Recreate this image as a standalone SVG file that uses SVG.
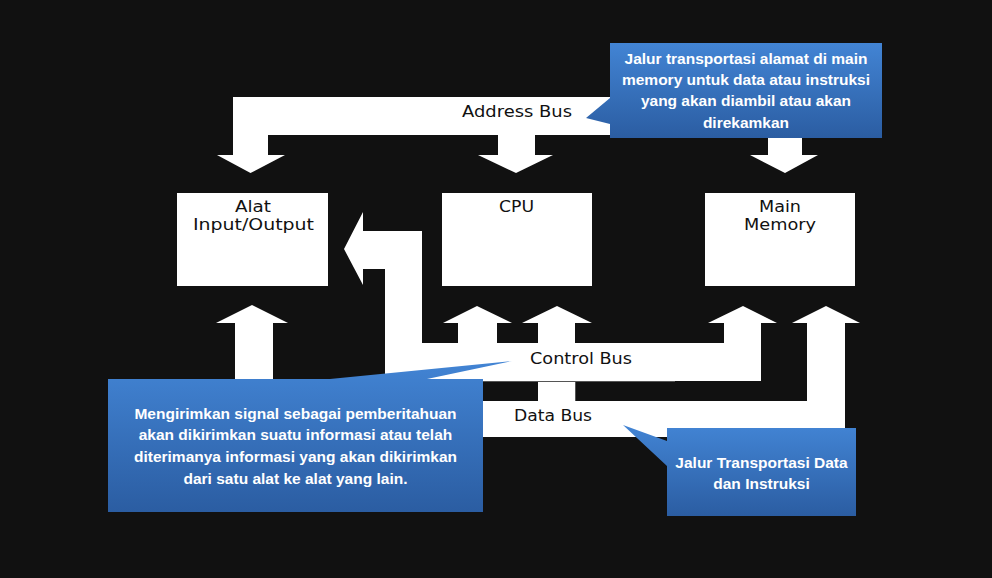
<svg xmlns="http://www.w3.org/2000/svg" width="992" height="578" viewBox="0 0 992 578">
<defs>
<linearGradient id="blueFill" x1="0" y1="0" x2="0" y2="1">
<stop offset="0" stop-color="#4284d4"/>
<stop offset="1" stop-color="#2b5da2"/>
</linearGradient>
</defs>
<style>
.bus{fill:#ffffff;}
.node{fill:#ffffff;}
.lbl{font-family:"DejaVu Sans",Verdana,sans-serif;font-size:16px;fill:#111111;}
.note{font-family:"Liberation Sans",Arial,sans-serif;font-weight:bold;font-size:15.5px;fill:#ffffff;text-anchor:middle;}
.callout{fill:url(#blueFill);}
.edge{stroke:#555555;stroke-width:1;fill:none;}
</style>
<rect x="0" y="0" width="992" height="578" fill="#111111"/>

<g id="connectors">
  <g id="address-bus">
    <path class="bus" d="M233,97 H802 V155 H818 L785,173 L750,155 H768 V135 H535 V155 H553 L516,173 L478,155 H498 V135 H268 V155 H285 L250.5,173 L217,155 H233 Z"/>
    <text class="lbl" x="462" y="117" textLength="110" lengthAdjust="spacingAndGlyphs">Address Bus</text>
  </g>
  <g id="data-bus">
    <path class="bus" d="M235,437 V323 H216 L252,305 L288,323 H273 V401 H538 V323 H522 L557,306 L592,323 H575 V401 H807 V323 H792 L826,306 L860,323 H845 V437 Z"/>
    <text class="lbl" x="514" y="421" textLength="78" lengthAdjust="spacingAndGlyphs">Data Bus</text>
  </g>
  <g id="control-bus">
    <path class="bus" d="M385,381 V269 H363 V285 L344,249 L363,212 V231 H422 V343 H458 V323 H443 L477,306 L512,323 H497 V343 H724 V323 H708 L743,306 L777,323 H761 V381 Z"/>
    <line class="edge" x1="483" y1="381.5" x2="675" y2="381.5"/>
    <line class="edge" x1="575.5" y1="382" x2="575.5" y2="401"/>
    <text class="lbl" x="530" y="364" textLength="102" lengthAdjust="spacingAndGlyphs">Control Bus</text>
  </g>
</g>

<g id="node-io">
  <rect class="node" x="177" y="193" width="151" height="93"/>
  <text class="lbl" x="235" y="212" textLength="36" lengthAdjust="spacingAndGlyphs">Alat</text>
  <text class="lbl" x="193" y="230" textLength="121" lengthAdjust="spacingAndGlyphs">Input/Output</text>
</g>
<g id="node-cpu">
  <rect class="node" x="442" y="193" width="150" height="93"/>
  <text class="lbl" x="499" y="212" textLength="35" lengthAdjust="spacingAndGlyphs">CPU</text>
</g>
<g id="node-memory">
  <rect class="node" x="705" y="193" width="150" height="93"/>
  <text class="lbl" x="759" y="212" textLength="42" lengthAdjust="spacingAndGlyphs">Main</text>
  <text class="lbl" x="744" y="230" textLength="72" lengthAdjust="spacingAndGlyphs">Memory</text>
</g>

<g id="callout-address">
  <path class="callout" d="M610,43 H882 V138 H610 V124 L586,118 L610,98 Z"/>
  <text class="note" x="746" y="64">Jalur transportasi alamat di main</text>
  <text class="note" x="746" y="85">memory untuk data atau instruksi</text>
  <text class="note" x="746" y="106">yang akan diambil atau akan</text>
  <text class="note" x="746" y="128">direkamkan</text>
</g>
<g id="callout-control">
  <path class="callout" d="M108,379 H330 L512,361 L427,379 H483 V512 H108 Z"/>
  <text class="note" x="295.5" y="419">Mengirimkan signal sebagai pemberitahuan</text>
  <text class="note" x="295.5" y="440">akan dikirimkan suatu informasi atau telah</text>
  <text class="note" x="295.5" y="462">diterimanya informasi yang akan dikirimkan</text>
  <text class="note" x="295.5" y="484">dari satu alat ke alat yang lain.</text>
</g>
<g id="callout-data">
  <path class="callout" d="M667,428 H856 V516 H667 V466 L623,425 L667,441 Z"/>
  <text class="note" x="761.5" y="468">Jalur Transportasi Data</text>
  <text class="note" x="761.5" y="489">dan Instruksi</text>
</g>
</svg>
